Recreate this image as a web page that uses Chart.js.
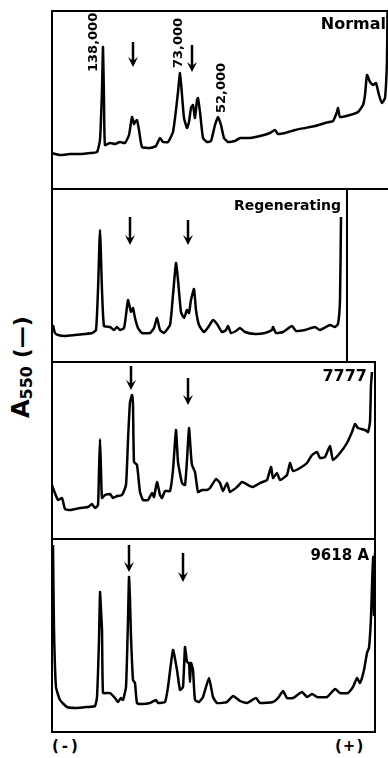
<!DOCTYPE html>
<html>
<head>
<meta charset="utf-8">
<script src="https://cdn.jsdelivr.net/npm/chart.js@4.4.0/dist/chart.umd.min.js"></script>
<style>
    body { margin: 0; background: #fff; }
    #wrap {
        position: relative; width: 388px; height: 758px; overflow: hidden; background: #fff;
        font-family: "DejaVu Sans", sans-serif; font-weight: bold; color: #000;
    }
    canvas { position: absolute; }
    .lbl { position: absolute; white-space: nowrap; line-height: 1; }
    .rot { transform-origin: 0 0; transform: rotate(-90deg); }
</style>
</head>
<body>
<div id="wrap">
    <canvas id="pNormal" width="337" height="180" style="left:51px;top:10px"></canvas>
    <canvas id="pRegen" width="297" height="171" style="left:51px;top:190px"></canvas>
    <canvas id="p7777" width="325" height="179" style="left:51px;top:361px"></canvas>
    <canvas id="p9618" width="325" height="193" style="left:51px;top:540px"></canvas>

    <div class="lbl" style="right:2px;top:16px;font-size:16px">Normal</div>
    <div class="lbl" style="right:47px;top:198px;font-size:14px">Regenerating</div>
    <div class="lbl" style="right:21px;top:368px;font-size:16px">7777</div>
    <div class="lbl" style="right:19px;top:548px;font-size:15px">9618 A</div>

    <div class="lbl rot" style="left:86px;top:72px;font-size:13px">138,000</div>
    <div class="lbl rot" style="left:171px;top:68px;font-size:13px">73,000</div>
    <div class="lbl rot" style="left:214px;top:113px;font-size:13px">52,000</div>

    <div class="lbl rot" style="left:9px;top:418px;font-size:24px">A<span style="font-size:16px;vertical-align:-3px">550</span><span style="font-size:22px"> (—)</span></div>

    <div class="lbl" style="left:52px;top:739px;font-size:15px;letter-spacing:3px">(-)</div>
    <div class="lbl" style="left:335px;top:739px;font-size:15px;letter-spacing:1px">(+)</div>
</div>

<script>
// Densitometer traces: x = migration distance, y = A550 (arbitrary units)
const normalX = [1, 9, 19, 29, 39, 46, 49, 51, 52, 53, 54, 59, 64, 69, 74, 78, 81, 83, 84, 86, 88, 91, 99, 105, 109, 112, 117, 122, 125, 127, 129, 131, 133, 136, 138, 140, 142, 144, 146, 147, 149, 152, 156, 160, 164, 167, 170, 173, 177, 184, 189, 199, 209, 219, 224, 227, 234, 244, 254, 264, 274, 282, 286, 287, 289, 299, 307, 312, 314, 316, 319, 322, 325, 328, 331, 334, 336, 336.5];
const normalY = [37, 35, 36, 36, 37, 38, 50, 100, 143, 90, 45, 47, 46, 48, 47, 55, 73, 66, 68, 70, 60, 43, 42, 44, 52, 48, 48, 58, 80, 98, 117, 95, 72, 62, 68, 82, 85, 72, 90, 92, 78, 52, 48, 49, 65, 73, 65, 52, 48, 49, 52, 52, 54, 57, 60, 56, 57, 60, 62, 64, 67, 69, 78, 82, 73, 75, 78, 85, 95, 115, 108, 105, 107, 95, 87, 92, 130, 180];

const regenX = [2, 4, 7, 14, 24, 34, 41, 45, 47, 49, 51, 53, 59, 63, 66, 69, 73, 75, 77, 79, 80, 82, 84, 87, 91, 99, 103, 106, 109, 113, 119, 122, 125, 127, 130, 133, 136, 138, 140, 143, 145, 148, 153, 158, 162, 166, 171, 175, 177, 180, 185, 189, 194, 204, 214, 221, 222, 225, 232, 241, 245, 254, 264, 269, 279, 284, 287, 289, 290];
const regenY = [36, 28, 26, 25, 26, 27, 28, 31, 71, 131, 71, 35, 34, 31, 34, 31, 33, 46, 61, 53, 49, 53, 43, 33, 28, 28, 33, 43, 31, 28, 36, 66, 98, 81, 49, 43, 51, 48, 61, 72, 51, 36, 29, 35, 41, 37, 29, 31, 35, 28, 30, 33, 29, 27, 28, 31, 34, 28, 29, 35, 30, 31, 34, 31, 36, 34, 37, 61, 144];

const t7777X = [1, 2, 7, 11, 14, 19, 29, 37, 41, 44, 47, 48, 49, 50, 51, 54, 59, 62, 66, 71, 75, 77, 79, 81, 82, 83, 86, 89, 92, 97, 101, 103, 106, 109, 111, 114, 119, 122, 125, 127, 131, 134, 136, 138, 140, 141, 144, 147, 151, 156, 159, 165, 169, 172, 176, 179, 186, 191, 197, 202, 209, 216, 220, 222, 226, 229, 236, 239, 242, 249, 256, 261, 266, 269, 274, 279, 282, 289, 296, 301, 304, 307, 314, 317, 319, 320, 321];
const t7777Y = [55, 52, 40, 42, 31, 30, 32, 33, 36, 32, 35, 70, 101, 70, 42, 45, 46, 42, 44, 45, 55, 100, 138, 145, 135, 78, 75, 48, 40, 40, 47, 43, 58, 45, 42, 49, 49, 70, 110, 78, 57, 55, 80, 112, 85, 75, 68, 48, 50, 50, 52, 61, 57, 49, 57, 48, 53, 58, 55, 53, 57, 60, 73, 62, 67, 60, 65, 77, 69, 72, 77, 85, 88, 82, 83, 94, 80, 87, 97, 108, 116, 112, 110, 108, 118, 155, 168];

const t9618X = [2, 3, 5, 9, 16, 26, 36, 44, 46, 48, 49, 50, 51, 52, 56, 59, 64, 67, 70, 72, 75, 77, 78, 79, 80, 82, 84, 86, 91, 99, 105, 107, 114, 117, 122, 126, 129, 132, 134, 136, 138, 139, 140, 142, 144, 148, 152, 158, 162, 166, 176, 182, 189, 196, 205, 209, 222, 227, 232, 236, 242, 251, 256, 261, 266, 276, 284, 289, 297, 302, 306, 309, 313, 316, 318, 320, 322, 323, 324];
const t9618Y = [188, 103, 46, 33, 26, 25, 26, 27, 36, 93, 141, 123, 103, 40, 40, 40, 35, 31, 35, 33, 46, 113, 156, 133, 96, 53, 50, 30, 29, 30, 33, 30, 31, 46, 83, 63, 43, 46, 86, 71, 70, 51, 70, 63, 33, 31, 36, 55, 36, 30, 31, 37, 32, 30, 35, 30, 31, 35, 42, 35, 35, 41, 36, 39, 36, 36, 44, 40, 40, 46, 55, 50, 63, 80, 85, 116, 176, 118, 180];

// Arrows: [x, tail y, tip y]
const normalArrows = [[82, 148, 123], [141, 145, 118]];
const regenArrows = [[79, 144, 116], [137, 141, 116]];
const t7777Arrows = [[80, 174, 150], [137, 162, 135]];
const t9618Arrows = [[78, 188, 161], [132, 180, 151]];

const ink = '#000';

const panelPlugin = {
    id: 'panel',
    afterDatasetsDraw(chart, args, opts) {
        const ctx = chart.ctx;
        const w = chart.width, h = chart.height;
        const xs = chart.scales.x, ys = chart.scales.y;
        ctx.save();
        ctx.strokeStyle = ink;
        ctx.fillStyle = ink;
        ctx.lineWidth = 2;
        ctx.lineCap = 'butt';

        // frame sides
        const sides = opts.sides || [];
        ctx.beginPath();
        if (sides.includes('top')) { ctx.moveTo(0, 1); ctx.lineTo(w, 1); }
        if (sides.includes('bottom')) { ctx.moveTo(0, h - 1); ctx.lineTo(w, h - 1); }
        if (sides.includes('left')) { ctx.moveTo(1, 0); ctx.lineTo(1, h); }
        if (sides.includes('right')) { ctx.moveTo(w - 1, 0); ctx.lineTo(w - 1, h); }
        ctx.stroke();

        // arrows
        ctx.lineWidth = 2.5;
        (opts.arrows || []).forEach(a => {
            const px = xs.getPixelForValue(a[0]);
            const top = ys.getPixelForValue(a[1]);
            const tip = ys.getPixelForValue(a[2]);
            ctx.beginPath();
            ctx.moveTo(px, top);
            ctx.lineTo(px, tip - 4);
            ctx.stroke();
            ctx.beginPath();
            ctx.moveTo(px, tip);
            ctx.lineTo(px - 5, tip - 10);
            ctx.lineTo(px, tip - 6);
            ctx.lineTo(px + 5, tip - 10);
            ctx.closePath();
            ctx.fill();
        });
        ctx.restore();
    }
};

function makePanel(id, xs, ys, sides, arrows) {
    const canvas = document.getElementById(id);
    const points = xs.map((x, i) => ({ x: x, y: ys[i] }));
    return new Chart(canvas, {
        type: 'line',
        data: {
            datasets: [{
                data: points,
                borderColor: ink,
                borderWidth: 2.5,
                pointRadius: 0,
                tension: 0.15,
                fill: false,
                borderJoinStyle: 'round'
            }]
        },
        options: {
            responsive: false,
            animation: false,
            events: [],
            layout: { padding: 0 },
            scales: {
                x: { type: 'linear', min: 0, max: canvas.width, display: false },
                y: { type: 'linear', min: 0, max: canvas.height, display: false }
            },
            plugins: {
                legend: { display: false },
                tooltip: { enabled: false },
                panel: { sides: sides, arrows: arrows }
            }
        },
        plugins: [panelPlugin]
    });
}

makePanel('pNormal', normalX, normalY, ['top', 'left', 'bottom'], normalArrows);
makePanel('pRegen', regenX, regenY, ['left', 'right'], regenArrows);
makePanel('p7777', t7777X, t7777Y, ['top', 'left', 'right', 'bottom'], t7777Arrows);
makePanel('p9618', t9618X, t9618Y, ['left', 'right', 'bottom'], t9618Arrows);
</script>
</body>
</html>
